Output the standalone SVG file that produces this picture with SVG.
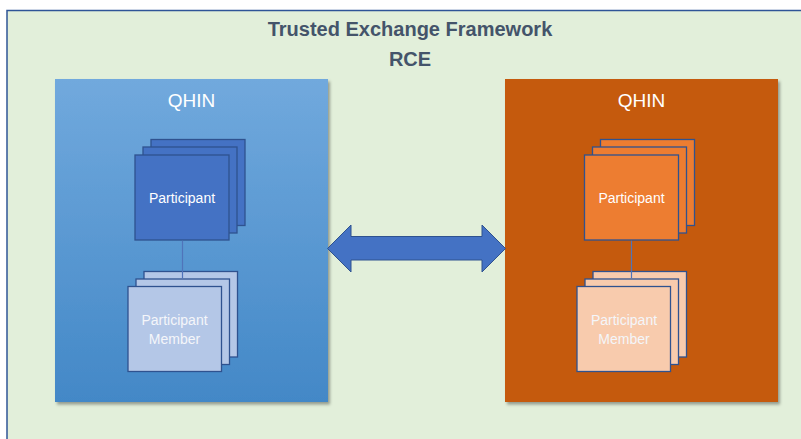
<svg xmlns="http://www.w3.org/2000/svg" width="801" height="439" viewBox="0 0 801 439">
  <style>
    .title { font-family: "Liberation Sans", Arial, sans-serif; font-weight: bold; font-size: 20px; fill: #44546A; text-anchor: middle; }
    .qhin { font-family: "Liberation Sans", Arial, sans-serif; font-size: 19px; fill: #FFFFFF; text-anchor: middle; }
    .lbl { font-family: "Liberation Sans", Arial, sans-serif; font-size: 14px; fill: #FFFFFF; text-anchor: middle; }
    .lbl2 { font-family: "Liberation Sans", Arial, sans-serif; font-size: 14px; fill: #F4F6FA; text-anchor: middle; }
    .sq { stroke: #2F528F; stroke-width: 1.3; }
    .pb { fill: #4472C4; }
    .mb { fill: #B4C7E7; }
    .po { fill: #ED7D31; }
    .mo { fill: #F8CBAD; }
    .link { stroke: #4F74BA; stroke-width: 1.2; fill: none; }
  </style>
  <defs>
    <linearGradient id="blueGrad" x1="0" y1="0" x2="0" y2="1">
      <stop offset="0" stop-color="#71A9DD"/>
      <stop offset="1" stop-color="#4388C7"/>
    </linearGradient>
    <filter id="shadow" x="-10%" y="-10%" width="125%" height="125%">
      <feDropShadow dx="2" dy="2.5" stdDeviation="1.8" flood-color="#000000" flood-opacity="0.35"/>
    </filter>
  </defs>

  <g id="frame">
    <rect x="7" y="10.5" width="900" height="500" fill="#E2EFDA" stroke="#2F5597" stroke-width="1.5"/>
    <text class="title" x="410" y="36">Trusted Exchange Framework</text>
    <text class="title" x="410" y="66">RCE</text>
  </g>

  <g id="qhin-left">
    <rect x="55" y="79" width="273" height="323" fill="url(#blueGrad)" filter="url(#shadow)"/>
    <text class="qhin" x="191.5" y="107">QHIN</text>
  </g>

  <g id="qhin-right">
    <rect x="505" y="79" width="273" height="323" fill="#C55A11" filter="url(#shadow)"/>
    <text class="qhin" x="641.5" y="107">QHIN</text>
  </g>

  <g id="participant-left">
    <rect class="sq pb" x="151" y="139.5" width="94" height="86"/>
    <rect class="sq pb" x="143" y="147" width="94" height="86"/>
    <rect class="sq pb" x="135" y="155" width="94" height="85"/>
    <text class="lbl" x="182" y="203">Participant</text>
  </g>

  <g id="member-left">
    <rect class="sq mb" x="144" y="271.5" width="93.5" height="85.5"/>
    <rect class="sq mb" x="136" y="279" width="93.5" height="85.5"/>
    <rect class="sq mb" x="128" y="286.5" width="93.5" height="85"/>
    <text class="lbl2" x="174.5" y="325">Participant</text>
    <text class="lbl2" x="174.5" y="343.5">Member</text>
  </g>

  <g id="participant-right">
    <rect class="sq po" x="600.5" y="139.5" width="94" height="86"/>
    <rect class="sq po" x="592.5" y="147" width="94" height="86"/>
    <rect class="sq po" x="584.5" y="155" width="94" height="85"/>
    <text class="lbl" x="631.5" y="203">Participant</text>
  </g>

  <g id="member-right">
    <rect class="sq mo" x="593" y="271.5" width="93.5" height="85.5"/>
    <rect class="sq mo" x="585" y="279" width="93.5" height="85.5"/>
    <rect class="sq mo" x="577" y="286.5" width="93.5" height="85"/>
    <text class="lbl2" x="624" y="325">Participant</text>
    <text class="lbl2" x="624" y="343.5">Member</text>
  </g>

  <g id="connectors">
    <line class="link" x1="182.5" y1="240.7" x2="182.5" y2="278.4"/>
    <line class="link" x1="631.5" y1="240.7" x2="631.5" y2="278.4"/>
    <polygon points="327.5,248.5 351,225 351,236.5 482,236.5 482,225 505.5,248.5 482,272 482,260 351,260 351,272" fill="#4472C4" stroke="#2F528F" stroke-width="1"/>
  </g>
</svg>
